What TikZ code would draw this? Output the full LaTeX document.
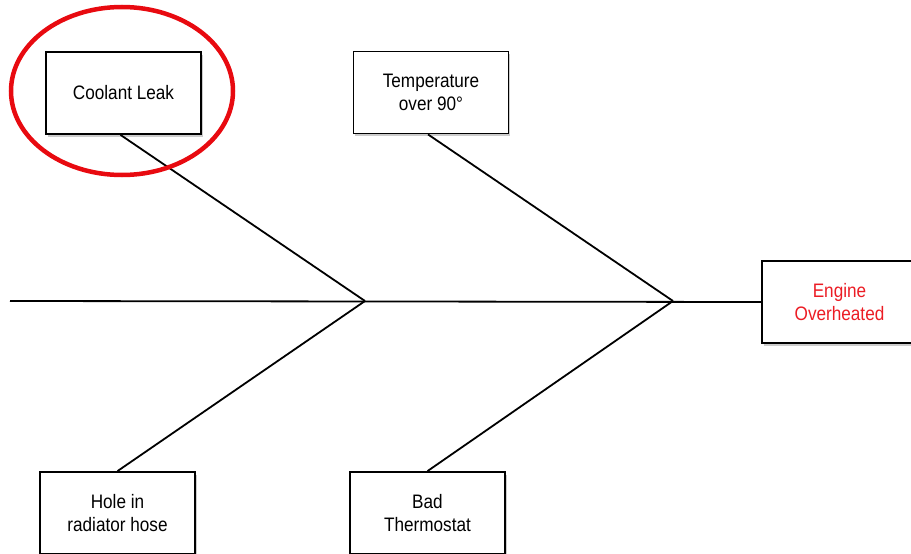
\documentclass[tikz,border=0pt]{standalone}
\usepackage{fontspec}
\setmainfont{Liberation Sans}[FakeStretch=0.88]
\usetikzlibrary{shadows}
\definecolor{ringred}{RGB}{232,10,16}
\definecolor{effectred}{RGB}{236,28,36}

\begin{document}
\begin{tikzpicture}[x=1pt, y=-1pt, line width=1.8pt,
  causebox/.style={draw, fill=white, minimum width=155pt, minimum height=82pt,
    align=center, font=\fontsize{19.5}{23}\selectfont,
    drop shadow={shadow xshift=1.5pt, shadow yshift=-2.5pt, opacity=0.4}}]
  \path[use as bounding box, clip] (0, 0) rectangle (911, 554);
  \coordinate (tail) at (10, 301);
  \coordinate (j1) at (365, 301);
  \coordinate (j2) at (673, 301);

  \node[causebox] (coolant) at (123.5, 93) {Coolant Leak};
  \node[causebox] (temp) at (431, 92.5) {Temperature\\over 90°};
  \node[causebox, text=effectred] (engine) at (839.5, 302) {Engine\\Overheated};
  \node[causebox] (hole) at (117.5, 513) {Hole in\\radiator hose};
  \node[causebox] (thermo) at (427.5, 513) {Bad\\Thermostat};

  \draw (tail) -- (engine.west);
  \draw ([xshift=-3pt]coolant.south) -- (j1);
  \draw (hole.north) -- (j1);
  \draw ([xshift=-3pt]temp.south) -- (j2);
  \draw (thermo.north) -- (j2);

  \draw[ringred, line width=4.5pt] (122, 91) ellipse [x radius=111, y radius=84];
\end{tikzpicture}
\end{document}
